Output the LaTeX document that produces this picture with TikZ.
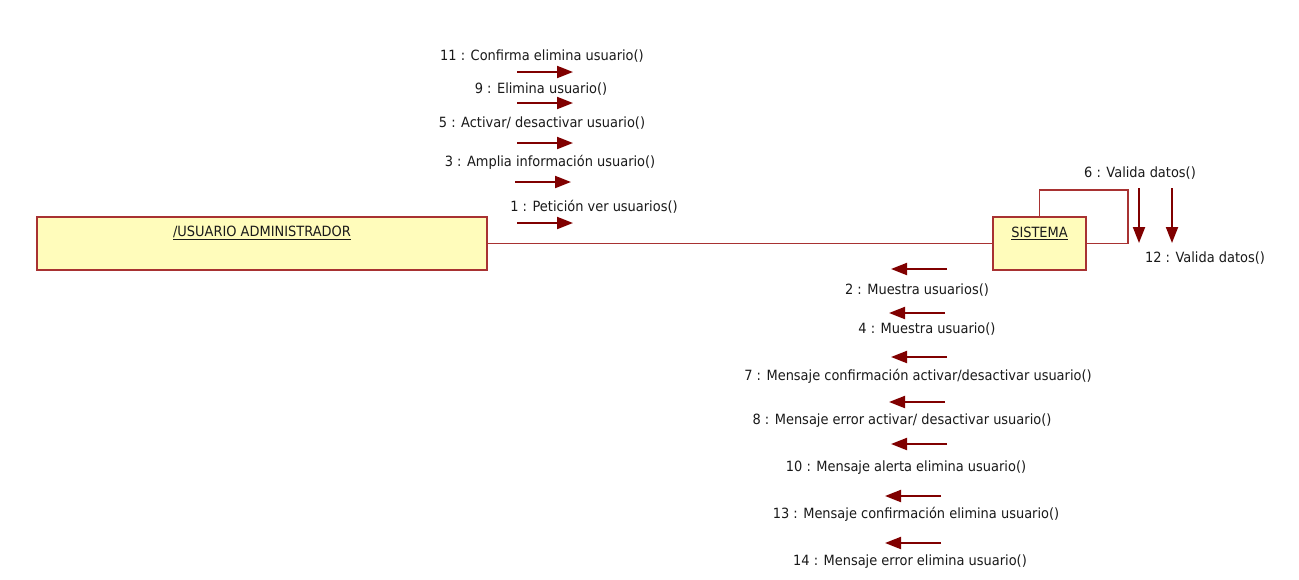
\documentclass[tikz,border=0pt]{standalone}
\usepackage{fontspec}
\setmainfont{DejaVu Sans}[FakeStretch=0.92]
\usetikzlibrary{arrows.meta}
\definecolor{linered}{HTML}{800000}
\definecolor{boxborder}{HTML}{A83232}
\definecolor{boxfill}{HTML}{FFFCBB}
\definecolor{txt}{HTML}{1A1A1A}
\begin{document}
\begin{tikzpicture}[x=1pt,y=-1pt,
  obj/.style={draw=boxborder, fill=boxfill, line width=1.5pt, minimum height=53pt, anchor=north west, inner sep=0pt, outer sep=0pt},
  lbl/.style={font=\fontsize{14.1}{16}\selectfont, text=txt, inner sep=0pt},
  msg/.style={draw=linered, line width=2pt, -{Triangle[length=16pt,width=12pt]}},
  link/.style={draw=boxborder, line width=1.5pt}]
\useasboundingbox[fill=white] (0,0) rectangle (1299,579);

% objects
\node[obj, minimum width=450pt, label={[lbl, anchor=center, yshift=-16pt]north:\underline{/USUARIO ADMINISTRADOR}}] (admin) at (37,217) {};
\node[obj, minimum width=93pt, label={[lbl, anchor=center, yshift=-16pt]north:\underline{SISTEMA}}] (sys) at (993,217) {};

% links
\draw[link] (admin.east) -- (sys.west);
\coordinate (loopA) at (1128,190);
\draw[link] (sys.north) |- (loopA) |- (sys.east);

% self messages
\coordinate (s6a) at (1139,188);  \coordinate (s6b) at (1139,243);
\coordinate (s12a) at (1172,188); \coordinate (s12b) at (1172,243);
\draw[msg] (s6a) -- (s6b);
\draw[msg] (s12a) -- (s12b);
\node[lbl] (l6) at (1140,173) {6 : Valida datos()};
\node[lbl] (l12) at (1205,258) {12 : Valida datos()};

% messages to SISTEMA
\coordinate (m11a) at (517,72);  \coordinate (m11b) at (573,72);
\coordinate (m9a) at (517,103);  \coordinate (m9b) at (573,103);
\coordinate (m5a) at (517,143);  \coordinate (m5b) at (573,143);
\coordinate (m3a) at (515,182);  \coordinate (m3b) at (571,182);
\coordinate (m1a) at (517,223);  \coordinate (m1b) at (573,223);
\draw[msg] (m11a) -- (m11b);
\draw[msg] (m9a) -- (m9b);
\draw[msg] (m5a) -- (m5b);
\draw[msg] (m3a) -- (m3b);
\draw[msg] (m1a) -- (m1b);
\node[lbl] (l11) at (542,56) {11 : Confirma elimina usuario()};
\node[lbl] (l9) at (541,89) {9 : Elimina usuario()};
\node[lbl] (l5) at (542,123) {5 : Activar/ desactivar usuario()};
\node[lbl] (l3) at (550,162) {3 : Amplia información usuario()};
\node[lbl] (l1) at (594,207) {1 : Petición ver usuarios()};

% messages to USUARIO
\coordinate (r2a) at (947,269);  \coordinate (r2b) at (891,269);
\coordinate (r4a) at (945,313);  \coordinate (r4b) at (889,313);
\coordinate (r7a) at (947,357);  \coordinate (r7b) at (891,357);
\coordinate (r8a) at (945,402);  \coordinate (r8b) at (889,402);
\coordinate (r10a) at (947,444); \coordinate (r10b) at (891,444);
\coordinate (r13a) at (941,496); \coordinate (r13b) at (885,496);
\coordinate (r14a) at (941,543); \coordinate (r14b) at (885,543);
\draw[msg] (r2a) -- (r2b);
\draw[msg] (r4a) -- (r4b);
\draw[msg] (r7a) -- (r7b);
\draw[msg] (r8a) -- (r8b);
\draw[msg] (r10a) -- (r10b);
\draw[msg] (r13a) -- (r13b);
\draw[msg] (r14a) -- (r14b);
\node[lbl] (l2) at (917,290) {2 : Muestra usuarios()};
\node[lbl] (l4) at (927,329) {4 : Muestra usuario()};
\node[lbl] (l7) at (918,376) {7 : Mensaje confirmación activar/desactivar usuario()};
\node[lbl] (l8) at (902,421) {8 : Mensaje error activar/ desactivar usuario()};
\node[lbl] (l10) at (906,468) {10 : Mensaje alerta elimina usuario()};
\node[lbl] (l13) at (916,514) {13 : Mensaje confirmación elimina usuario()};
\node[lbl] (l14) at (910,562) {14 : Mensaje error elimina usuario()};
\end{tikzpicture}
\end{document}
